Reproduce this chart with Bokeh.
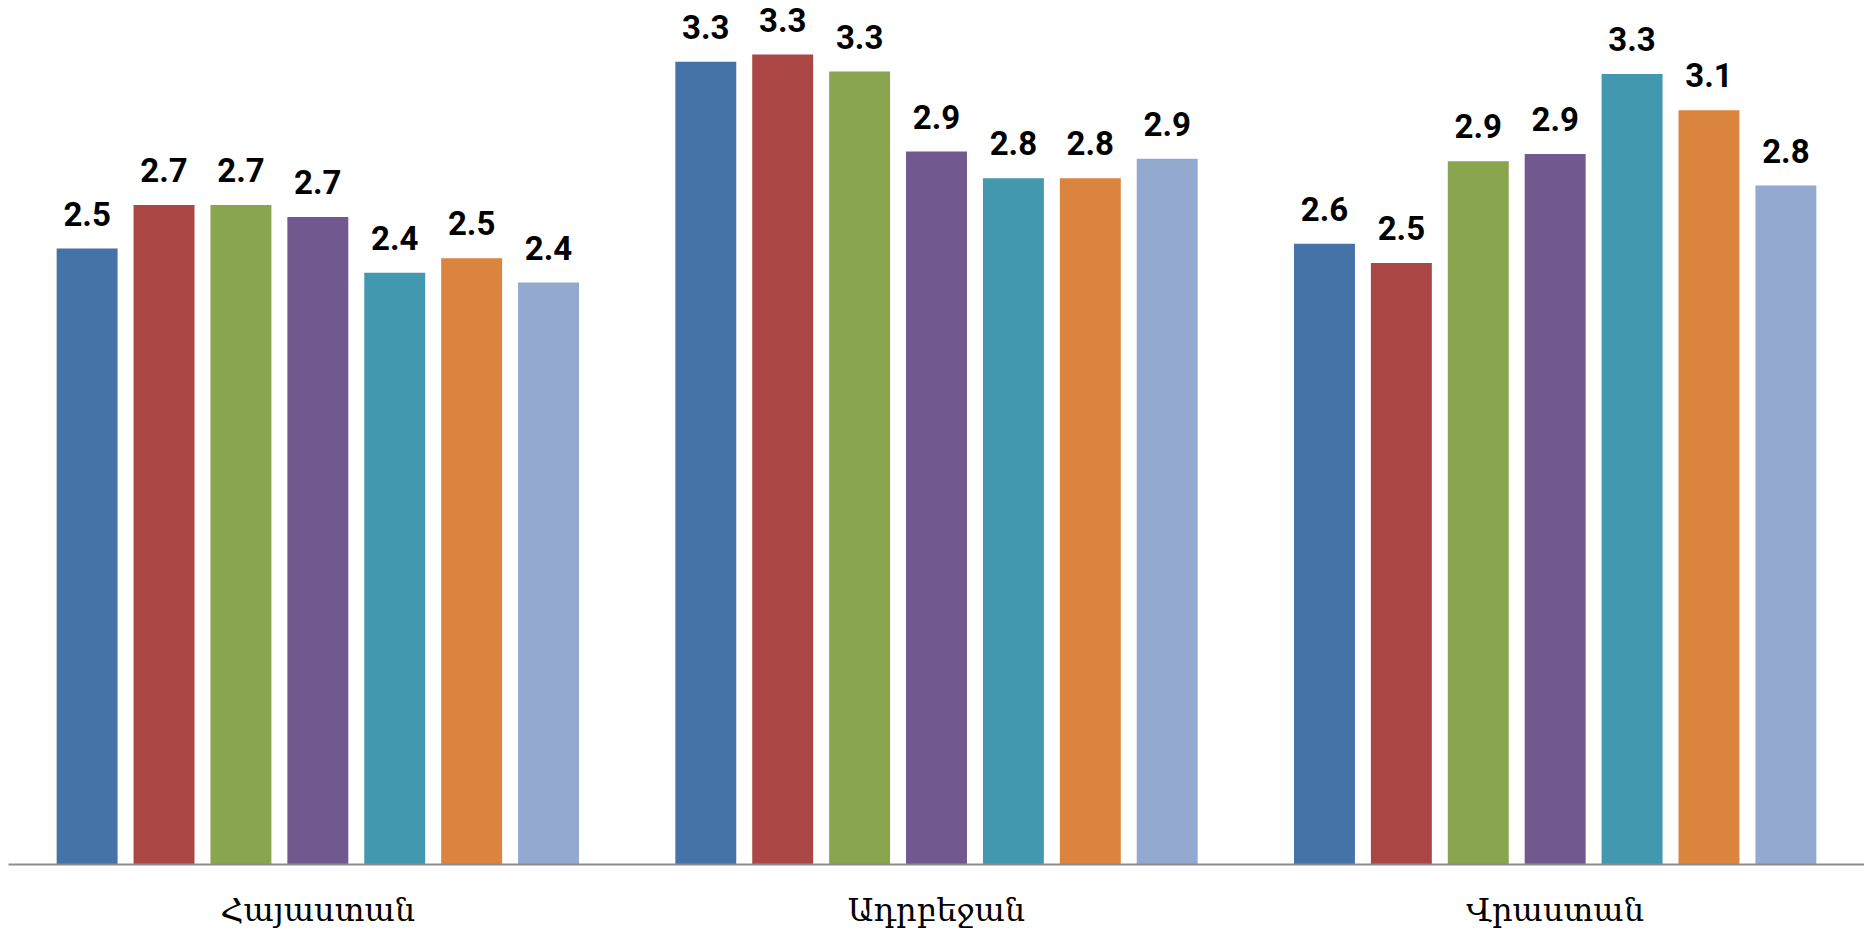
from bokeh.plotting import figure
from bokeh.models import ColumnDataSource, FixedTicker, Range1d
from bokeh.core.properties import value
from bokeh.embed import file_html
from bokeh.resources import INLINE

categories = ["Հայաստան", "Ադրբեջան", "Վրաստան"]
series_colors = ["#4572A7", "#AA4643", "#89A54E", "#71588F", "#4198AF", "#DB843D", "#93A9CF"]
s1 = [2.54, 3.31, 2.56]
s2 = [2.72, 3.34, 2.48]
s3 = [2.72, 3.27, 2.90]
s4 = [2.67, 2.94, 2.93]
s5 = [2.44, 2.83, 3.26]
s6 = [2.50, 2.83, 3.11]
s7 = [2.40, 2.91, 2.80]
series = [s1, s2, s3, s4, s5, s6, s7]

pitch = 0.1243
bw = 0.0985

xs, tops, cols, labels = [], [], [], []
for i, s in enumerate(series):
    for g, v in enumerate(s):
        xs.append(g + (i - 3) * pitch)
        tops.append(v)
        cols.append(series_colors[i])
        labels.append(f"{v:.1f}")

src = ColumnDataSource(dict(x=xs, top=tops, color=cols, label=labels))

p = figure(frame_width=1856, frame_height=864, output_backend="svg", toolbar_location=None,
           x_range=Range1d(-0.5, 2.5), y_range=Range1d(0, 3.563),
           min_border_left=8, min_border_right=0, min_border_top=0, min_border_bottom=0)
p.vbar(x="x", top="top", bottom=0, width=bw, fill_color="color", line_color=None, source=src)
p.text(x="x", y="top", text="label", source=src, y_offset=-35,
       text_align="center", text_baseline="alphabetic",
       text_font=value("Roboto"), text_font_style="bold", text_font_size="33px",
       text_color="black")

p.outline_line_color = None
p.grid.visible = False
p.yaxis.visible = False
p.xaxis.ticker = FixedTicker(ticks=[0, 1, 2])
p.xaxis.major_label_overrides = {0: categories[0], 1: categories[1], 2: categories[2]}
p.xaxis.major_tick_line_color = None
p.xaxis.minor_tick_line_color = None
p.xaxis.axis_line_color = "#8e8e8e"
p.xaxis.axis_line_width = 2
p.xaxis.major_label_standoff = 20
p.xaxis.major_label_text_font = "DejaVu Serif"
p.xaxis.major_label_text_font_size = "32px"
p.xaxis.major_label_text_color = "black"

open("out.html", "w").write(file_html(p, INLINE))
